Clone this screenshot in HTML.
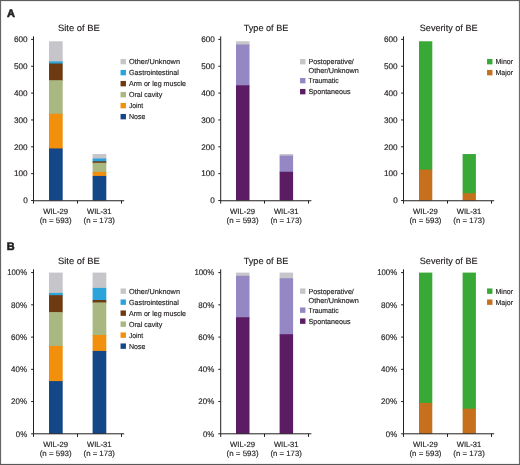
<!DOCTYPE html>
<html lang="en">
<head>
<meta charset="utf-8">
<title>Bleeding episodes: site, type and severity</title>
<style>
html,body{margin:0;padding:0;background:#fff;}
body{width:520px;height:465px;overflow:hidden;}
svg{display:block;}
svg text{font-family:"Liberation Sans",Arial,Helvetica,sans-serif;fill:#231f20;stroke:#231f20;stroke-width:0.16px;text-rendering:geometricPrecision;}
</style>
</head>
<body>
<svg width="520" height="465" viewBox="0 0 520 465">
<rect x="0" y="0" width="520" height="465" fill="#fff"/>
<rect x="49.00" y="41.28" width="13.70" height="20.84" fill="#c6c5ca"/>
<rect x="49.00" y="61.42" width="13.70" height="2.85" fill="#2ba4dc"/>
<rect x="49.00" y="63.56" width="13.70" height="17.35" fill="#6d3a12"/>
<rect x="49.00" y="80.21" width="13.70" height="34.26" fill="#a9b780"/>
<rect x="49.00" y="113.77" width="13.70" height="35.34" fill="#f2900d"/>
<rect x="49.00" y="148.41" width="13.70" height="52.09" fill="#144788"/>
<rect x="92.60" y="154.05" width="13.70" height="5.13" fill="#c6c5ca"/>
<rect x="92.60" y="158.48" width="13.70" height="3.52" fill="#2ba4dc"/>
<rect x="92.60" y="161.30" width="13.70" height="2.18" fill="#6d3a12"/>
<rect x="92.60" y="162.78" width="13.70" height="9.83" fill="#a9b780"/>
<rect x="92.60" y="171.90" width="13.70" height="4.73" fill="#f2900d"/>
<rect x="92.60" y="175.93" width="13.70" height="24.57" fill="#144788"/>
<path d="M33.50 36.30V200.75H124.20" fill="none" stroke="#231f20" stroke-width="1"/>
<path d="M31.10 200.50H33.50M31.10 173.65H33.50M31.10 146.80H33.50M31.10 119.95H33.50M31.10 93.10H33.50M31.10 66.25H33.50M31.10 39.40H33.50M33.50 200.75V203.60M77.50 200.75V203.60M121.50 200.75V203.60" fill="none" stroke="#231f20" stroke-width="1"/>
<text x="27.70" y="203.25" font-size="8.2" text-anchor="end">0</text>
<text x="27.70" y="176.40" font-size="8.2" text-anchor="end">100</text>
<text x="27.70" y="149.55" font-size="8.2" text-anchor="end">200</text>
<text x="27.70" y="122.70" font-size="8.2" text-anchor="end">300</text>
<text x="27.70" y="95.85" font-size="8.2" text-anchor="end">400</text>
<text x="27.70" y="69.00" font-size="8.2" text-anchor="end">500</text>
<text x="27.70" y="42.15" font-size="8.2" text-anchor="end">600</text>
<text x="78.90" y="30.70" font-size="9.15" text-anchor="middle" textLength="42" lengthAdjust="spacingAndGlyphs">Site of BE</text>
<text x="55.65" y="213.55" font-size="7.55" text-anchor="middle" textLength="25.0" lengthAdjust="spacingAndGlyphs">WIL-29</text>
<text x="55.65" y="222.70" font-size="7.7" text-anchor="middle" textLength="32.0" lengthAdjust="spacingAndGlyphs">(n = 593)</text>
<text x="99.25" y="213.55" font-size="7.55" text-anchor="middle" textLength="24.5" lengthAdjust="spacingAndGlyphs">WIL-31</text>
<text x="99.25" y="222.70" font-size="7.7" text-anchor="middle" textLength="31.4" lengthAdjust="spacingAndGlyphs">(n = 173)</text>
<rect x="120.55" y="58.95" width="5.40" height="5.40" fill="#c6c5ca"/>
<text x="129.00" y="64.00" font-size="7.3" textLength="51.0" lengthAdjust="spacingAndGlyphs">Other/Unknown</text>
<rect x="120.55" y="69.95" width="5.40" height="5.40" fill="#2ba4dc"/>
<text x="129.00" y="75.00" font-size="7.3" textLength="49.8" lengthAdjust="spacingAndGlyphs">Gastrointestinal</text>
<rect x="120.55" y="80.95" width="5.40" height="5.40" fill="#6d3a12"/>
<text x="129.00" y="86.00" font-size="7.3" textLength="57.0" lengthAdjust="spacingAndGlyphs">Arm or leg muscle</text>
<rect x="120.55" y="91.95" width="5.40" height="5.40" fill="#a9b780"/>
<text x="129.00" y="97.00" font-size="7.3" textLength="33.3" lengthAdjust="spacingAndGlyphs">Oral cavity</text>
<rect x="120.55" y="102.95" width="5.40" height="5.40" fill="#f2900d"/>
<text x="129.00" y="108.00" font-size="7.3" textLength="14.2" lengthAdjust="spacingAndGlyphs">Joint</text>
<rect x="120.55" y="113.95" width="5.40" height="5.40" fill="#144788"/>
<text x="129.00" y="119.00" font-size="7.3" textLength="16.5" lengthAdjust="spacingAndGlyphs">Nose</text>
<rect x="236.00" y="41.28" width="13.50" height="3.92" fill="#c6c5ca"/>
<rect x="236.00" y="44.50" width="13.50" height="41.51" fill="#9586c4"/>
<rect x="236.00" y="85.31" width="13.50" height="115.19" fill="#5b1c63"/>
<rect x="279.60" y="154.05" width="13.50" height="2.31" fill="#c6c5ca"/>
<rect x="279.60" y="155.66" width="13.50" height="16.81" fill="#9586c4"/>
<rect x="279.60" y="171.77" width="13.50" height="28.73" fill="#5b1c63"/>
<path d="M220.70 36.30V200.75H311.40" fill="none" stroke="#231f20" stroke-width="1"/>
<path d="M218.30 200.50H220.70M218.30 173.65H220.70M218.30 146.80H220.70M218.30 119.95H220.70M218.30 93.10H220.70M218.30 66.25H220.70M218.30 39.40H220.70M220.70 200.75V203.60M264.50 200.75V203.60M308.50 200.75V203.60" fill="none" stroke="#231f20" stroke-width="1"/>
<text x="214.90" y="203.25" font-size="8.2" text-anchor="end">0</text>
<text x="214.90" y="176.40" font-size="8.2" text-anchor="end">100</text>
<text x="214.90" y="149.55" font-size="8.2" text-anchor="end">200</text>
<text x="214.90" y="122.70" font-size="8.2" text-anchor="end">300</text>
<text x="214.90" y="95.85" font-size="8.2" text-anchor="end">400</text>
<text x="214.90" y="69.00" font-size="8.2" text-anchor="end">500</text>
<text x="214.90" y="42.15" font-size="8.2" text-anchor="end">600</text>
<text x="266.00" y="30.70" font-size="9.15" text-anchor="middle">Type of BE</text>
<text x="242.55" y="213.55" font-size="7.55" text-anchor="middle" textLength="25.0" lengthAdjust="spacingAndGlyphs">WIL-29</text>
<text x="242.55" y="222.70" font-size="7.7" text-anchor="middle" textLength="32.0" lengthAdjust="spacingAndGlyphs">(n = 593)</text>
<text x="286.15" y="213.55" font-size="7.55" text-anchor="middle" textLength="24.5" lengthAdjust="spacingAndGlyphs">WIL-31</text>
<text x="286.15" y="222.70" font-size="7.7" text-anchor="middle" textLength="31.4" lengthAdjust="spacingAndGlyphs">(n = 173)</text>
<rect x="300.05" y="58.95" width="5.40" height="5.40" fill="#c6c5ca"/>
<text x="308.50" y="64.00" font-size="7.3" textLength="45.3" lengthAdjust="spacingAndGlyphs">Postoperative/</text>
<text x="308.50" y="73.00" font-size="7.3" textLength="50.4" lengthAdjust="spacingAndGlyphs">Other/Unknown</text>
<rect x="300.05" y="77.95" width="5.40" height="5.40" fill="#9586c4"/>
<text x="308.50" y="83.00" font-size="7.3" textLength="30.2" lengthAdjust="spacingAndGlyphs">Traumatic</text>
<rect x="300.05" y="88.95" width="5.40" height="5.40" fill="#5b1c63"/>
<text x="308.50" y="94.00" font-size="7.3" textLength="42.0" lengthAdjust="spacingAndGlyphs">Spontaneous</text>
<rect x="419.00" y="41.28" width="13.30" height="129.04" fill="#38a837"/>
<rect x="419.00" y="169.62" width="13.30" height="30.88" fill="#c6701d"/>
<rect x="462.60" y="154.05" width="13.30" height="39.90" fill="#38a837"/>
<rect x="462.60" y="193.25" width="13.30" height="7.25" fill="#c6701d"/>
<path d="M403.50 36.30V200.75H494.20" fill="none" stroke="#231f20" stroke-width="1"/>
<path d="M401.10 200.50H403.50M401.10 173.65H403.50M401.10 146.80H403.50M401.10 119.95H403.50M401.10 93.10H403.50M401.10 66.25H403.50M401.10 39.40H403.50M403.50 200.75V203.60M447.50 200.75V203.60M491.50 200.75V203.60" fill="none" stroke="#231f20" stroke-width="1"/>
<text x="397.70" y="203.25" font-size="8.2" text-anchor="end">0</text>
<text x="397.70" y="176.40" font-size="8.2" text-anchor="end">100</text>
<text x="397.70" y="149.55" font-size="8.2" text-anchor="end">200</text>
<text x="397.70" y="122.70" font-size="8.2" text-anchor="end">300</text>
<text x="397.70" y="95.85" font-size="8.2" text-anchor="end">400</text>
<text x="397.70" y="69.00" font-size="8.2" text-anchor="end">500</text>
<text x="397.70" y="42.15" font-size="8.2" text-anchor="end">600</text>
<text x="448.70" y="30.70" font-size="9.15" text-anchor="middle">Severity of BE</text>
<text x="425.45" y="213.55" font-size="7.55" text-anchor="middle" textLength="25.0" lengthAdjust="spacingAndGlyphs">WIL-29</text>
<text x="425.45" y="222.70" font-size="7.7" text-anchor="middle" textLength="32.0" lengthAdjust="spacingAndGlyphs">(n = 593)</text>
<text x="469.05" y="213.55" font-size="7.55" text-anchor="middle" textLength="24.5" lengthAdjust="spacingAndGlyphs">WIL-31</text>
<text x="469.05" y="222.70" font-size="7.7" text-anchor="middle" textLength="31.4" lengthAdjust="spacingAndGlyphs">(n = 173)</text>
<rect x="487.05" y="58.95" width="5.40" height="5.40" fill="#38a837"/>
<text x="495.50" y="64.00" font-size="7.3" textLength="17.6" lengthAdjust="spacingAndGlyphs">Minor</text>
<rect x="487.05" y="69.95" width="5.40" height="5.40" fill="#c6701d"/>
<text x="495.50" y="75.00" font-size="7.3" textLength="17.6" lengthAdjust="spacingAndGlyphs">Major</text>
<rect x="49.00" y="272.60" width="13.70" height="21.01" fill="#c6c5ca"/>
<rect x="49.00" y="292.91" width="13.70" height="2.96" fill="#2ba4dc"/>
<rect x="49.00" y="295.17" width="13.70" height="17.63" fill="#6d3a12"/>
<rect x="49.00" y="312.09" width="13.70" height="34.55" fill="#a9b780"/>
<rect x="49.00" y="345.95" width="13.70" height="35.84" fill="#f2900d"/>
<rect x="49.00" y="381.09" width="13.70" height="52.71" fill="#144788"/>
<rect x="92.60" y="272.60" width="13.70" height="16.01" fill="#c6c5ca"/>
<rect x="92.60" y="287.91" width="13.70" height="12.79" fill="#2ba4dc"/>
<rect x="92.60" y="300.00" width="13.70" height="3.12" fill="#6d3a12"/>
<rect x="92.60" y="302.42" width="13.70" height="33.26" fill="#a9b780"/>
<rect x="92.60" y="334.98" width="13.70" height="16.66" fill="#f2900d"/>
<rect x="92.60" y="350.94" width="13.70" height="82.86" fill="#144788"/>
<path d="M33.50 269.30V433.80H124.20" fill="none" stroke="#231f20" stroke-width="1"/>
<path d="M31.10 433.80H33.50M31.10 401.56H33.50M31.10 369.32H33.50M31.10 337.08H33.50M31.10 304.84H33.50M31.10 272.60H33.50M33.50 433.80V436.90M77.50 433.80V436.90M121.50 433.80V436.90" fill="none" stroke="#231f20" stroke-width="1"/>
<text x="27.10" y="436.55" font-size="8.2" text-anchor="end" textLength="11.3" lengthAdjust="spacingAndGlyphs">0%</text>
<text x="27.10" y="404.31" font-size="8.2" text-anchor="end" textLength="16.0" lengthAdjust="spacingAndGlyphs">20%</text>
<text x="27.10" y="372.07" font-size="8.2" text-anchor="end" textLength="16.0" lengthAdjust="spacingAndGlyphs">40%</text>
<text x="27.10" y="339.83" font-size="8.2" text-anchor="end" textLength="16.0" lengthAdjust="spacingAndGlyphs">60%</text>
<text x="27.10" y="307.59" font-size="8.2" text-anchor="end" textLength="16.0" lengthAdjust="spacingAndGlyphs">80%</text>
<text x="27.10" y="275.35" font-size="8.2" text-anchor="end" textLength="19.9" lengthAdjust="spacingAndGlyphs">100%</text>
<text x="78.90" y="264.00" font-size="9.15" text-anchor="middle" textLength="42" lengthAdjust="spacingAndGlyphs">Site of BE</text>
<text x="55.65" y="446.85" font-size="7.55" text-anchor="middle" textLength="25.0" lengthAdjust="spacingAndGlyphs">WIL-29</text>
<text x="55.65" y="456.00" font-size="7.7" text-anchor="middle" textLength="32.0" lengthAdjust="spacingAndGlyphs">(n = 593)</text>
<text x="99.25" y="446.85" font-size="7.55" text-anchor="middle" textLength="24.5" lengthAdjust="spacingAndGlyphs">WIL-31</text>
<text x="99.25" y="456.00" font-size="7.7" text-anchor="middle" textLength="31.4" lengthAdjust="spacingAndGlyphs">(n = 173)</text>
<rect x="120.55" y="288.45" width="5.40" height="5.40" fill="#c6c5ca"/>
<text x="129.00" y="293.50" font-size="7.3" textLength="51.0" lengthAdjust="spacingAndGlyphs">Other/Unknown</text>
<rect x="120.55" y="299.45" width="5.40" height="5.40" fill="#2ba4dc"/>
<text x="129.00" y="304.50" font-size="7.3" textLength="49.8" lengthAdjust="spacingAndGlyphs">Gastrointestinal</text>
<rect x="120.55" y="310.45" width="5.40" height="5.40" fill="#6d3a12"/>
<text x="129.00" y="315.50" font-size="7.3" textLength="57.0" lengthAdjust="spacingAndGlyphs">Arm or leg muscle</text>
<rect x="120.55" y="321.45" width="5.40" height="5.40" fill="#a9b780"/>
<text x="129.00" y="326.50" font-size="7.3" textLength="33.3" lengthAdjust="spacingAndGlyphs">Oral cavity</text>
<rect x="120.55" y="332.45" width="5.40" height="5.40" fill="#f2900d"/>
<text x="129.00" y="337.50" font-size="7.3" textLength="14.2" lengthAdjust="spacingAndGlyphs">Joint</text>
<rect x="120.55" y="343.45" width="5.40" height="5.40" fill="#144788"/>
<text x="129.00" y="348.50" font-size="7.3" textLength="16.5" lengthAdjust="spacingAndGlyphs">Nose</text>
<rect x="236.00" y="272.60" width="13.50" height="3.92" fill="#c6c5ca"/>
<rect x="236.00" y="275.82" width="13.50" height="42.13" fill="#9586c4"/>
<rect x="236.00" y="317.25" width="13.50" height="116.55" fill="#5b1c63"/>
<rect x="279.60" y="272.60" width="13.50" height="6.34" fill="#c6c5ca"/>
<rect x="279.60" y="278.24" width="13.50" height="56.64" fill="#9586c4"/>
<rect x="279.60" y="334.18" width="13.50" height="99.62" fill="#5b1c63"/>
<path d="M220.70 269.30V433.80H311.40" fill="none" stroke="#231f20" stroke-width="1"/>
<path d="M218.30 433.80H220.70M218.30 401.56H220.70M218.30 369.32H220.70M218.30 337.08H220.70M218.30 304.84H220.70M218.30 272.60H220.70M220.70 433.80V436.90M264.50 433.80V436.90M308.50 433.80V436.90" fill="none" stroke="#231f20" stroke-width="1"/>
<text x="214.30" y="436.55" font-size="8.2" text-anchor="end" textLength="11.3" lengthAdjust="spacingAndGlyphs">0%</text>
<text x="214.30" y="404.31" font-size="8.2" text-anchor="end" textLength="16.0" lengthAdjust="spacingAndGlyphs">20%</text>
<text x="214.30" y="372.07" font-size="8.2" text-anchor="end" textLength="16.0" lengthAdjust="spacingAndGlyphs">40%</text>
<text x="214.30" y="339.83" font-size="8.2" text-anchor="end" textLength="16.0" lengthAdjust="spacingAndGlyphs">60%</text>
<text x="214.30" y="307.59" font-size="8.2" text-anchor="end" textLength="16.0" lengthAdjust="spacingAndGlyphs">80%</text>
<text x="214.30" y="275.35" font-size="8.2" text-anchor="end" textLength="19.9" lengthAdjust="spacingAndGlyphs">100%</text>
<text x="266.00" y="264.00" font-size="9.15" text-anchor="middle">Type of BE</text>
<text x="242.55" y="446.85" font-size="7.55" text-anchor="middle" textLength="25.0" lengthAdjust="spacingAndGlyphs">WIL-29</text>
<text x="242.55" y="456.00" font-size="7.7" text-anchor="middle" textLength="32.0" lengthAdjust="spacingAndGlyphs">(n = 593)</text>
<text x="286.15" y="446.85" font-size="7.55" text-anchor="middle" textLength="24.5" lengthAdjust="spacingAndGlyphs">WIL-31</text>
<text x="286.15" y="456.00" font-size="7.7" text-anchor="middle" textLength="31.4" lengthAdjust="spacingAndGlyphs">(n = 173)</text>
<rect x="300.05" y="288.45" width="5.40" height="5.40" fill="#c6c5ca"/>
<text x="308.50" y="293.50" font-size="7.3" textLength="45.3" lengthAdjust="spacingAndGlyphs">Postoperative/</text>
<text x="308.50" y="302.50" font-size="7.3" textLength="50.4" lengthAdjust="spacingAndGlyphs">Other/Unknown</text>
<rect x="300.05" y="307.45" width="5.40" height="5.40" fill="#9586c4"/>
<text x="308.50" y="312.50" font-size="7.3" textLength="30.2" lengthAdjust="spacingAndGlyphs">Traumatic</text>
<rect x="300.05" y="318.45" width="5.40" height="5.40" fill="#5b1c63"/>
<text x="308.50" y="323.50" font-size="7.3" textLength="42.0" lengthAdjust="spacingAndGlyphs">Spontaneous</text>
<rect x="419.00" y="272.60" width="13.30" height="131.03" fill="#38a837"/>
<rect x="419.00" y="402.93" width="13.30" height="30.87" fill="#c6701d"/>
<rect x="462.60" y="272.60" width="13.30" height="136.75" fill="#38a837"/>
<rect x="462.60" y="408.65" width="13.30" height="25.15" fill="#c6701d"/>
<path d="M403.50 269.30V433.80H494.20" fill="none" stroke="#231f20" stroke-width="1"/>
<path d="M401.10 433.80H403.50M401.10 401.56H403.50M401.10 369.32H403.50M401.10 337.08H403.50M401.10 304.84H403.50M401.10 272.60H403.50M403.50 433.80V436.90M447.50 433.80V436.90M491.50 433.80V436.90" fill="none" stroke="#231f20" stroke-width="1"/>
<text x="397.10" y="436.55" font-size="8.2" text-anchor="end" textLength="11.3" lengthAdjust="spacingAndGlyphs">0%</text>
<text x="397.10" y="404.31" font-size="8.2" text-anchor="end" textLength="16.0" lengthAdjust="spacingAndGlyphs">20%</text>
<text x="397.10" y="372.07" font-size="8.2" text-anchor="end" textLength="16.0" lengthAdjust="spacingAndGlyphs">40%</text>
<text x="397.10" y="339.83" font-size="8.2" text-anchor="end" textLength="16.0" lengthAdjust="spacingAndGlyphs">60%</text>
<text x="397.10" y="307.59" font-size="8.2" text-anchor="end" textLength="16.0" lengthAdjust="spacingAndGlyphs">80%</text>
<text x="397.10" y="275.35" font-size="8.2" text-anchor="end" textLength="19.9" lengthAdjust="spacingAndGlyphs">100%</text>
<text x="448.70" y="264.00" font-size="9.15" text-anchor="middle">Severity of BE</text>
<text x="425.45" y="446.85" font-size="7.55" text-anchor="middle" textLength="25.0" lengthAdjust="spacingAndGlyphs">WIL-29</text>
<text x="425.45" y="456.00" font-size="7.7" text-anchor="middle" textLength="32.0" lengthAdjust="spacingAndGlyphs">(n = 593)</text>
<text x="469.05" y="446.85" font-size="7.55" text-anchor="middle" textLength="24.5" lengthAdjust="spacingAndGlyphs">WIL-31</text>
<text x="469.05" y="456.00" font-size="7.7" text-anchor="middle" textLength="31.4" lengthAdjust="spacingAndGlyphs">(n = 173)</text>
<rect x="487.05" y="288.45" width="5.40" height="5.40" fill="#38a837"/>
<text x="495.50" y="293.50" font-size="7.3" textLength="17.6" lengthAdjust="spacingAndGlyphs">Minor</text>
<rect x="487.05" y="299.45" width="5.40" height="5.40" fill="#c6701d"/>
<text x="495.50" y="304.50" font-size="7.3" textLength="17.6" lengthAdjust="spacingAndGlyphs">Major</text>
<text x="6.9" y="16.5" font-size="11" font-weight="bold" style="stroke-width:0.6px">A</text>
<text x="6.8" y="250.0" font-size="11" font-weight="bold" style="stroke-width:0.6px">B</text>
<rect x="0" y="0" width="1.1" height="465" fill="#666"/>
<rect x="518.9" y="0" width="1.1" height="465" fill="#6c6c6c"/>
<rect x="0" y="0" width="520" height="1.1" fill="#5c5c5c"/>
<rect x="0" y="463.9" width="520" height="1.1" fill="#585858"/>
</svg>
</body>
</html>
